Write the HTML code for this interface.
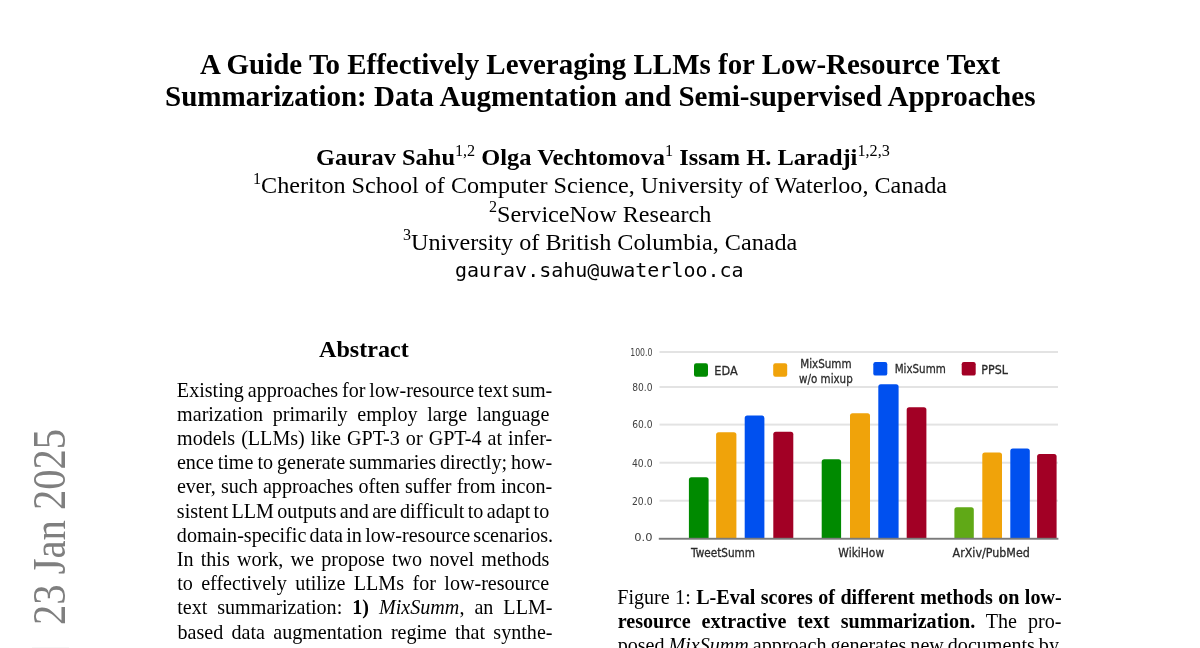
<!DOCTYPE html>
<html><head><meta charset="utf-8">
<style>
html,body{margin:0;padding:0;background:#fff;}
body{width:1200px;height:648px;position:relative;overflow:hidden;font-family:"Liberation Serif",serif;color:#000;}
.l{position:absolute;white-space:nowrap;line-height:0;transform-origin:0 0;}
.l sup{font-size:0.665em;line-height:0;vertical-align:baseline;position:relative;top:-9.5px;font-weight:normal;}
.wm{position:absolute;white-space:nowrap;line-height:0;color:#7f7f7f;font-family:"Liberation Serif",serif;}
.ch{position:absolute;left:0;top:0;}
#pg{position:absolute;left:0;top:0;width:1200px;height:648px;}
</style></head><body><div id="pg">

<div class="l" id="t1" style="left:199.51px;top:64.25px;font-size:28.90px;font-family:'Liberation Serif', serif;font-weight:bold;transform:scale(1.0023,1.0450);transform-origin:0 9.75px;">A Guide To Effectively Leveraging LLMs for Low-Resource Text</div>
<div class="l" id="t2" style="left:165.13px;top:96.25px;font-size:28.90px;font-family:'Liberation Serif', serif;font-weight:bold;transform:scale(1.0058,1.0450);transform-origin:0 9.75px;">Summarization: Data Augmentation and Semi-supervised Approaches</div>
<div class="l" id="au" style="left:316.01px;top:157.17px;font-size:24.10px;font-family:'Liberation Serif', serif;transform:scale(1.0124,1.0000);transform-origin:0 8.13px;"><b>Gaurav Sahu</b><sup>1,2</sup> <b>Olga Vechtomova</b><sup>1</sup> <b>Issam H. Laradji</b><sup>1,2,3</sup></div>
<div class="l" id="a1" style="left:253.16px;top:185.27px;font-size:24.10px;font-family:'Liberation Serif', serif;transform:scale(1.0026,1.0000);transform-origin:0 8.13px;"><sup>1</sup>Cheriton School of Computer Science, University of Waterloo, Canada</div>
<div class="l" id="a2" style="left:489.22px;top:213.67px;font-size:24.10px;font-family:'Liberation Serif', serif;transform:scale(1.0041,1.0000);transform-origin:0 8.13px;"><sup>2</sup>ServiceNow Research</div>
<div class="l" id="a3" style="left:403.27px;top:241.97px;font-size:24.10px;font-family:'Liberation Serif', serif;transform:scale(1.0038,1.0000);transform-origin:0 8.13px;"><sup>3</sup>University of British Columbia, Canada</div>
<div class="l" id="em" style="left:455.28px;top:271.15px;font-size:19.80px;font-family:'DejaVu Sans Mono', monospace;transform:scale(1.0094,1.0000);transform-origin:0 6.85px;">gaurav.sahu@uwaterloo.ca</div>
<div class="l" id="ah" style="left:318.93px;top:349.37px;font-size:24.10px;font-family:'Liberation Serif', serif;font-weight:bold;transform:scale(1.0013,1.0000);transform-origin:0 8.13px;">Abstract</div>
<div class="l" id="ab0" style="left:176.86px;top:389.62px;font-size:20.10px;font-family:'Liberation Serif', serif;word-spacing:-1.136px;">Existing approaches for low-resource text sum-</div>
<div class="l" id="ab1" style="left:177.09px;top:413.82px;font-size:20.10px;font-family:'Liberation Serif', serif;word-spacing:4.719px;">marization primarily employ large language</div>
<div class="l" id="ab2" style="left:177.09px;top:438.02px;font-size:20.10px;font-family:'Liberation Serif', serif;word-spacing:1.010px;">models (LLMs) like GPT-3 or GPT-4 at infer-</div>
<div class="l" id="ab3" style="left:176.91px;top:462.22px;font-size:20.10px;font-family:'Liberation Serif', serif;word-spacing:-1.039px;">ence time to generate summaries directly; how-</div>
<div class="l" id="ab4" style="left:176.91px;top:486.42px;font-size:20.10px;font-family:'Liberation Serif', serif;word-spacing:0.168px;">ever, such approaches often suffer from incon-</div>
<div class="l" id="ab5" style="left:176.87px;top:510.62px;font-size:20.10px;font-family:'Liberation Serif', serif;word-spacing:-1.679px;">sistent LLM outputs and are difficult to adapt to</div>
<div class="l" id="ab6" style="left:176.87px;top:534.82px;font-size:20.10px;font-family:'Liberation Serif', serif;word-spacing:-1.765px;">domain-specific data in low-resource scenarios.</div>
<div class="l" id="ab7" style="left:176.69px;top:559.02px;font-size:20.10px;font-family:'Liberation Serif', serif;word-spacing:2.215px;">In this work, we propose two novel methods</div>
<div class="l" id="ab8" style="left:177.13px;top:583.22px;font-size:20.10px;font-family:'Liberation Serif', serif;word-spacing:3.402px;">to effectively utilize LLMs for low-resource</div>
<div class="l" id="ab9" style="left:177.13px;top:607.42px;font-size:20.10px;font-family:'Liberation Serif', serif;word-spacing:4.976px;">text summarization: <b>1)</b> <i>MixSumm</i>, an LLM-</div>
<div class="l" id="ab10" style="left:177.45px;top:631.62px;font-size:20.10px;font-family:'Liberation Serif', serif;word-spacing:3.263px;">based data augmentation regime that synthe-</div>
<div class="l" id="cp0" style="left:617.24px;top:597.22px;font-size:20.10px;font-family:'Liberation Serif', serif;word-spacing:0.389px;">Figure 1: <b>L-Eval scores of different methods on low-</b></div>
<div class="l" id="cp1" style="left:617.76px;top:621.22px;font-size:20.10px;font-family:'Liberation Serif', serif;word-spacing:5.937px;"><b>resource extractive text summarization.</b> The pro-</div>
<div class="l" id="cp2" style="left:617.65px;top:645.02px;font-size:20.10px;font-family:'Liberation Serif', serif;word-spacing:-1.034px;">posed <i>MixSumm</i> approach generates new documents by</div>
<div class="wm" style="left:50.00px;top:625.30px;font-size:46.00px;transform:rotate(-90deg) scale(0.8820,1);transform-origin:0 0;">23 Jan 2025</div>
<svg class="ch" font-family="'DejaVu Sans', sans-serif" fill="#2a2a2a" style="left:600px;top:330px" width="480" height="240" viewBox="600 330 480 240">
<rect x="659.5" y="351.00" width="398.5" height="2" fill="#e3e3e3"/>
<rect x="659.5" y="386.00" width="398.5" height="2" fill="#e3e3e3"/>
<rect x="659.5" y="423.60" width="398.5" height="2" fill="#e3e3e3"/>
<rect x="659.5" y="461.70" width="398.5" height="2" fill="#e3e3e3"/>
<rect x="659.5" y="499.70" width="398.5" height="2" fill="#e3e3e3"/>
<path d="M688.90 538.50V479.70Q688.90 477.20 691.40 477.20H706.10Q708.60 477.20 708.60 479.70V538.50Z" fill="#008a00"/>
<path d="M716.10 538.50V434.70Q716.10 432.20 718.60 432.20H733.90Q736.40 432.20 736.40 434.70V538.50Z" fill="#f0a30a"/>
<path d="M744.70 538.50V418.10Q744.70 415.60 747.20 415.60H761.90Q764.40 415.60 764.40 418.10V538.50Z" fill="#0050ef"/>
<path d="M773.30 538.50V434.20Q773.30 431.70 775.80 431.70H790.80Q793.30 431.70 793.30 434.20V538.50Z" fill="#a20025"/>
<path d="M821.70 538.50V461.70Q821.70 459.20 824.20 459.20H838.60Q841.10 459.20 841.10 461.70V538.50Z" fill="#008a00"/>
<path d="M850.00 538.50V415.80Q850.00 413.30 852.50 413.30H867.50Q870.00 413.30 870.00 415.80V538.50Z" fill="#f0a30a"/>
<path d="M878.30 538.50V386.70Q878.30 384.20 880.80 384.20H896.10Q898.60 384.20 898.60 386.70V538.50Z" fill="#0050ef"/>
<path d="M906.70 538.50V409.70Q906.70 407.20 909.20 407.20H923.90Q926.40 407.20 926.40 409.70V538.50Z" fill="#a20025"/>
<path d="M954.40 538.50V509.70Q954.40 507.20 956.90 507.20H971.30Q973.80 507.20 973.80 509.70V538.50Z" fill="#60a917"/>
<path d="M982.30 538.50V454.90Q982.30 452.40 984.80 452.40H999.50Q1002.00 452.40 1002.00 454.90V538.50Z" fill="#f0a30a"/>
<path d="M1010.30 538.50V451.10Q1010.30 448.60 1012.80 448.60H1027.30Q1029.80 448.60 1029.80 451.10V538.50Z" fill="#0050ef"/>
<path d="M1037.10 538.50V456.50Q1037.10 454.00 1039.60 454.00H1054.10Q1056.60 454.00 1056.60 456.50V538.50Z" fill="#a20025"/>
<rect x="658.8" y="537.8" width="399.6" height="1.9" fill="#7a7a7a"/>
<text fill="#404040" x="630.20" y="355.80" font-size="10.5" textLength="22.30" lengthAdjust="spacingAndGlyphs">100.0</text>
<text fill="#404040" x="632.20" y="390.80" font-size="10.5" textLength="20.30" lengthAdjust="spacingAndGlyphs">80.0</text>
<text fill="#404040" x="632.20" y="428.40" font-size="10.5" textLength="20.30" lengthAdjust="spacingAndGlyphs">60.0</text>
<text fill="#404040" x="632.00" y="466.50" font-size="10.5" textLength="20.50" lengthAdjust="spacingAndGlyphs">40.0</text>
<text fill="#404040" x="632.00" y="504.50" font-size="10.5" textLength="20.50" lengthAdjust="spacingAndGlyphs">20.0</text>
<text fill="#404040" x="634.30" y="540.60" font-size="10.5" textLength="18.20" lengthAdjust="spacingAndGlyphs">0.0</text>
<rect x="694.00" y="363.20" width="14" height="13.6" rx="2.2" fill="#008a00"/>
<rect x="773.20" y="363.20" width="14" height="13.6" rx="2.2" fill="#f0a30a"/>
<rect x="873.30" y="362.00" width="14" height="13.6" rx="2.2" fill="#0050ef"/>
<rect x="961.70" y="362.00" width="14" height="13.6" rx="2.2" fill="#a20025"/>
<text stroke="#2a2a2a" stroke-width="0.3" x="714.30" y="375.20" font-size="12.6" textLength="23.40" lengthAdjust="spacingAndGlyphs">EDA</text>
<text stroke="#2a2a2a" stroke-width="0.3" x="800.20" y="368.00" font-size="12.0" textLength="51.40" lengthAdjust="spacingAndGlyphs">MixSumm</text>
<text stroke="#2a2a2a" stroke-width="0.3" x="799.10" y="383.20" font-size="12.0" textLength="53.60" lengthAdjust="spacingAndGlyphs">w/o mixup</text>
<text stroke="#2a2a2a" stroke-width="0.3" x="894.70" y="373.30" font-size="12.6" textLength="51.10" lengthAdjust="spacingAndGlyphs">MixSumm</text>
<text stroke="#2a2a2a" stroke-width="0.3" x="981.30" y="374.00" font-size="12.6" textLength="26.70" lengthAdjust="spacingAndGlyphs">PPSL</text>
<text stroke="#2a2a2a" stroke-width="0.3" x="691.00" y="556.70" font-size="12" textLength="64.00" lengthAdjust="spacingAndGlyphs">TweetSumm</text>
<text stroke="#2a2a2a" stroke-width="0.3" x="838.30" y="556.70" font-size="12" textLength="45.90" lengthAdjust="spacingAndGlyphs">WikiHow</text>
<text stroke="#2a2a2a" stroke-width="0.3" x="952.60" y="556.70" font-size="12" textLength="77.20" lengthAdjust="spacingAndGlyphs">ArXiv/PubMed</text>
</svg>
<div style="position:absolute;left:32px;top:647px;width:37px;height:1px;background:#f6f6f6"></div>
</div></body></html>
